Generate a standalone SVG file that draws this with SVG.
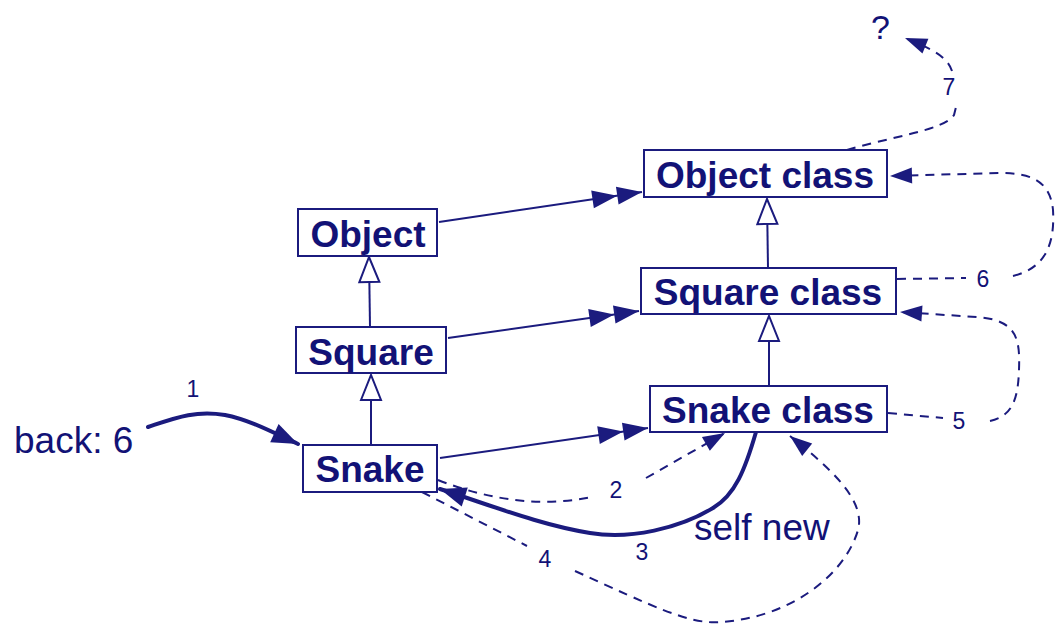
<svg xmlns="http://www.w3.org/2000/svg" width="1059" height="628" viewBox="0 0 1059 628">
<style>
.box{fill:#fff;stroke:#1b1b7e;stroke-width:2}
.nt{font-family:"Liberation Sans",Arial,sans-serif;font-weight:bold;font-size:37px;fill:#121276;text-anchor:middle}
.lbl{font-family:"Liberation Sans",Arial,sans-serif;font-size:23px;fill:#121276;text-anchor:middle}
.big{font-family:"Liberation Sans",Arial,sans-serif;font-size:37px;fill:#121276}
.ln{fill:none;stroke:#1b1b7e;stroke-width:2}
.dash{fill:none;stroke:#1b1b7e;stroke-width:2;stroke-dasharray:9 7}
.thick{fill:none;stroke:#1b1b7e;stroke-width:4;stroke-linecap:round}
</style>
<defs>
<marker id="dbl" markerUnits="userSpaceOnUse" markerWidth="52" markerHeight="20" refX="50" refY="9" orient="auto" overflow="visible">
<path d="M0,0 L25,9 L0,18 Z M25,0 L50,9 L25,18 Z" fill="#1b1b7e"/>
</marker>
<marker id="inh" markerUnits="userSpaceOnUse" markerWidth="28" markerHeight="22" refX="26" refY="10" orient="auto" overflow="visible">
<path d="M1,0 L26,10 L1,20 Z" fill="#fff" stroke="#1b1b7e" stroke-width="2"/>
</marker>
<marker id="arr" markerUnits="userSpaceOnUse" markerWidth="24" markerHeight="18" refX="22" refY="8" orient="auto" overflow="visible">
<path d="M0,0 L22,8 L0,16 Z" fill="#1b1b7e"/>
</marker>
<marker id="arrb" markerUnits="userSpaceOnUse" markerWidth="28" markerHeight="22" refX="26" refY="10" orient="auto" overflow="visible">
<path d="M0,0 L26,10 L0,20 Z" fill="#1b1b7e"/>
</marker>
</defs>
<g id="connectors">
<path class="ln" d="M371,445 L371,375" marker-end="url(#inh)"/>
<path class="ln" d="M370,327 L369,257" marker-end="url(#inh)"/>
<path class="ln" d="M769,386 L769,316" marker-end="url(#inh)"/>
<path class="ln" d="M768,268 L767,199" marker-end="url(#inh)"/>
<path class="ln" d="M439,222 L642,192" marker-end="url(#dbl)"/>
<path class="ln" d="M448,338 L639,311" marker-end="url(#dbl)"/>
<path class="ln" d="M440,458 L648,428" marker-end="url(#dbl)"/>
<path class="thick" d="M148,427 C175,418 195,410 225,415 C250,420 272,432 298,444" marker-end="url(#arrb)"/>
<path class="dash" d="M438,480 Q520,512 592,497 M646,478 L725,433" marker-end="url(#arr)"/>
<path class="thick" d="M756,432 C745,470 735,495 713,508 C680,528 630,540 590,533 C540,525 490,505 440,489" marker-end="url(#arrb)"/>
<path class="dash" d="M422,492 L527,546 M575,571 C650,605 690,625 720,622 C790,618 845,575 858,530 C866,500 830,468 790,436" marker-end="url(#arr)"/>
<path class="dash" d="M888,413 L943,418 M990,421 C1012,416 1018,400 1019,370 C1020,340 1018,320 977,317 L900,312" marker-end="url(#arr)"/>
<path class="dash" d="M897,279 L966,278 M1013,276 C1045,268 1055,245 1053,210 C1050,180 1030,173 1000,173 L890,176" marker-end="url(#arr)"/>
<path class="dash" d="M847,150 C890,137 945,130 954,115 L957,103 M952,71 C948,58 935,50 905,38" marker-end="url(#arr)"/>
</g>
<g id="node-object"><rect class="box" x="298" y="209" width="139" height="47"/><text class="nt" x="368" y="247">Object</text></g>
<g id="node-square"><rect class="box" x="296" y="327" width="150" height="46"/><text class="nt" x="371" y="365">Square</text></g>
<g id="node-snake"><rect class="box" x="303" y="445" width="134" height="47"/><text class="nt" x="370" y="482">Snake</text></g>
<g id="node-objectclass"><rect class="box" x="644" y="150" width="243" height="47"/><text class="nt" x="765" y="188">Object class</text></g>
<g id="node-squareclass"><rect class="box" x="641" y="268" width="255" height="46"/><text class="nt" x="768" y="305">Square class</text></g>
<g id="node-snakeclass"><rect class="box" x="650" y="386" width="237" height="46"/><text class="nt" x="768" y="423">Snake class</text></g>
<g id="labels">
<text class="big" x="14" y="453">back: 6</text>
<text class="big" x="694" y="540">self new</text>
<text class="big" x="871" y="39" style="font-size:34px">?</text>
<text class="lbl" x="193" y="397">1</text>
<text class="lbl" x="616" y="498">2</text>
<text class="lbl" x="642" y="560">3</text>
<text class="lbl" x="545" y="567">4</text>
<text class="lbl" x="959" y="429">5</text>
<text class="lbl" x="983" y="287">6</text>
<text class="lbl" x="949" y="95">7</text>
</g>
</svg>
